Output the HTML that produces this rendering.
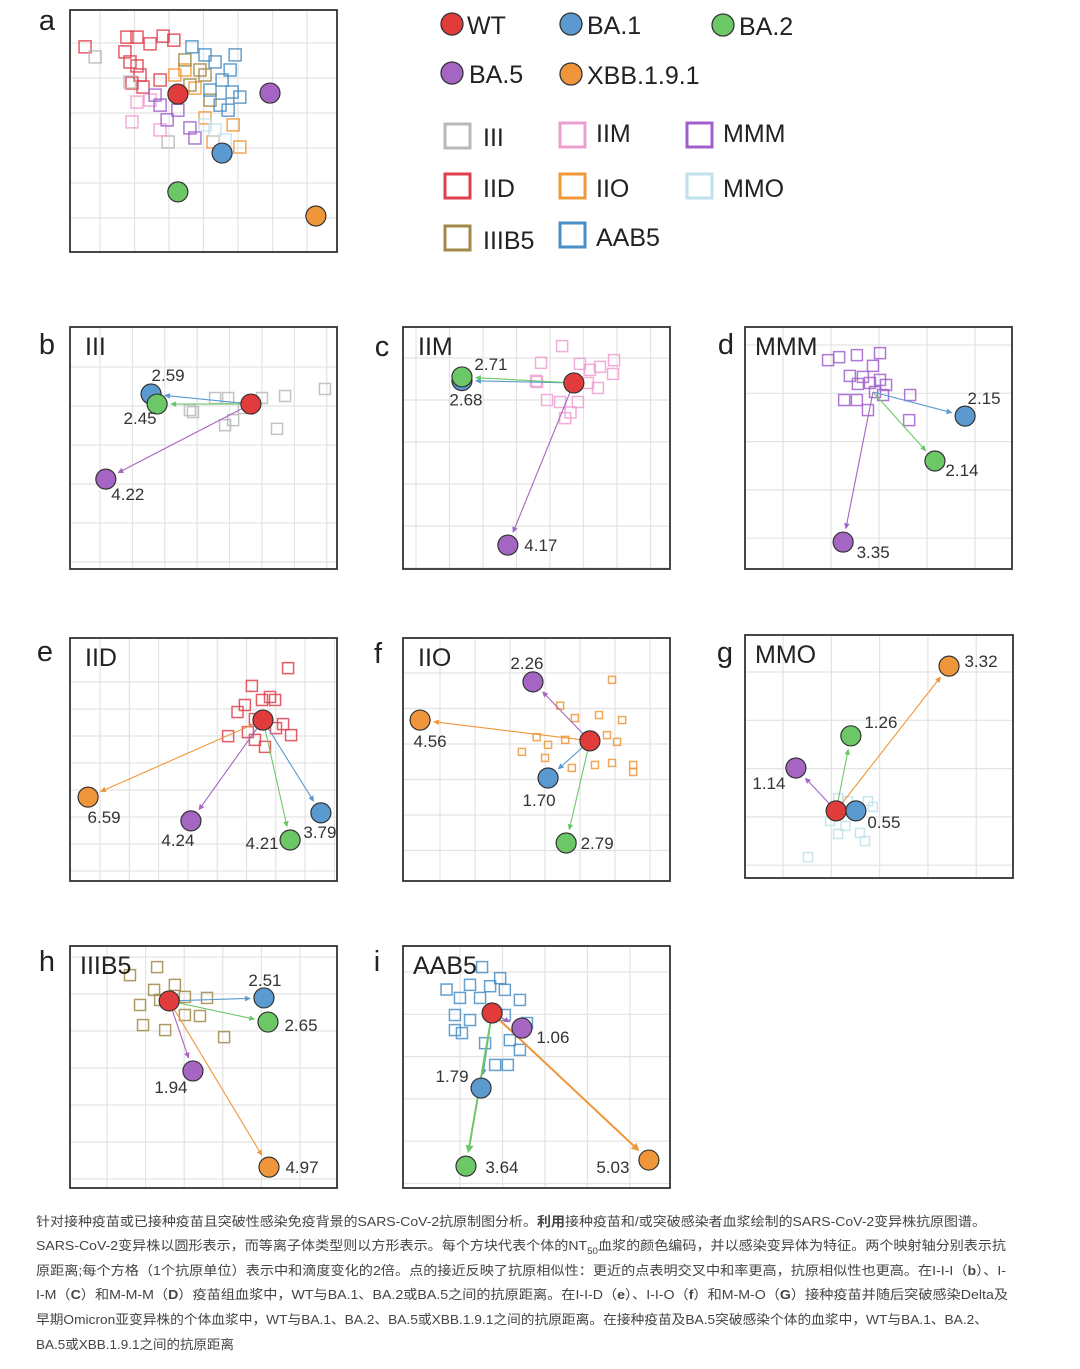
<!DOCTYPE html>
<html><head><meta charset="utf-8"><style>
html,body{margin:0;padding:0;background:#fff}
svg{display:block}
text{font-family:"Liberation Sans","Noto Sans CJK SC",sans-serif}
</style></head><body>
<svg id="fig" width="1080" height="1369" viewBox="0 0 1080 1369" xmlns="http://www.w3.org/2000/svg">
<rect width="1080" height="1369" fill="#fff"/>
<g id="legend" font-size="25" fill="#222">
 <g><circle cx="452" cy="24" r="11" fill="#e23b3b" stroke="#333" stroke-width="1.3"/><text x="467" y="34">WT</text></g>
 <g><circle cx="571" cy="24" r="11" fill="#5a9ad0" stroke="#333" stroke-width="1.3"/><text x="587" y="34">BA.1</text></g>
 <g><circle cx="723" cy="25" r="11" fill="#6cc866" stroke="#333" stroke-width="1.3"/><text x="739" y="35">BA.2</text></g>
 <g><circle cx="452" cy="73" r="11" fill="#a466c2" stroke="#333" stroke-width="1.3"/><text x="469" y="83">BA.5</text></g>
 <g><circle cx="571" cy="74" r="11" fill="#f0963a" stroke="#333" stroke-width="1.3"/><text x="587" y="84">XBB.1.9.1</text></g>
 <g><rect x="445" y="124" width="25" height="24" fill="none" stroke="#b8b8b8" stroke-width="3"/><text x="483" y="146">III</text></g>
 <g><rect x="560" y="123" width="25" height="24" fill="none" stroke="#ee9fd2" stroke-width="3"/><text x="596" y="142">IIM</text></g>
 <g><rect x="687" y="123" width="25" height="24" fill="none" stroke="#a060cc" stroke-width="3"/><text x="723" y="142">MMM</text></g>
 <g><rect x="445" y="174" width="25" height="24" fill="none" stroke="#e0404c" stroke-width="3"/><text x="483" y="197">IID</text></g>
 <g><rect x="560" y="174" width="25" height="24" fill="none" stroke="#f09838" stroke-width="3"/><text x="596" y="197">IIO</text></g>
 <g><rect x="687" y="174" width="25" height="24" fill="none" stroke="#bfe2ea" stroke-width="3"/><text x="723" y="197">MMO</text></g>
 <g><rect x="445" y="226" width="25" height="24" fill="none" stroke="#a08a48" stroke-width="3"/><text x="483" y="249">IIIB5</text></g>
 <g><rect x="560" y="223" width="25" height="24" fill="none" stroke="#4a8ec4" stroke-width="3"/><text x="596" y="246">AAB5</text></g>
</g>
<g id="caption" font-size="13" fill="#444">
 <text x="36" y="1226" textLength="950" lengthAdjust="spacingAndGlyphs">针对接种疫苗或已接种疫苗且突破性感染免疫背景的SARS-CoV-2抗原制图分析。<tspan font-weight="bold">利用</tspan>接种疫苗和/或突破感染者血浆绘制的SARS-CoV-2变异株抗原图谱。</text>
 <text x="36" y="1250" textLength="970" lengthAdjust="spacingAndGlyphs">SARS-CoV-2变异株以圆形表示，而等离子体类型则以方形表示。每个方块代表个体的NT<tspan font-size="9" dy="4">50</tspan><tspan dy="-4">血浆的颜色编码，并以感染变异体为特征。两个映射轴分别表示抗</tspan></text>
 <text x="36" y="1275" textLength="970" lengthAdjust="spacingAndGlyphs">原距离;每个方格（1个抗原单位）表示中和滴度变化的2倍。点的接近反映了抗原相似性：更近的点表明交叉中和率更高，抗原相似性也更高。在I-I-I（<tspan font-weight="bold">b</tspan>）、I-</text>
 <text x="36" y="1299" textLength="972" lengthAdjust="spacingAndGlyphs">I-M（<tspan font-weight="bold">C</tspan>）和M-M-M（<tspan font-weight="bold">D</tspan>）疫苗组血浆中，WT与BA.1、BA.2或BA.5之间的抗原距离。在I-I-D（<tspan font-weight="bold">e</tspan>）、I-I-O（<tspan font-weight="bold">f</tspan>）和M-M-O（<tspan font-weight="bold">G</tspan>）接种疫苗并随后突破感染Delta及</text>
 <text x="36" y="1324" textLength="952" lengthAdjust="spacingAndGlyphs">早期Omicron亚变异株的个体血浆中，WT与BA.1、BA.2、BA.5或XBB.1.9.1之间的抗原距离。在接种疫苗及BA.5突破感染个体的血浆中，WT与BA.1、BA.2、</text>
 <text x="36" y="1349" textLength="198" lengthAdjust="spacingAndGlyphs">BA.5或XBB.1.9.1之间的抗原距离</text>
</g>
</svg>
<script>
// ===== data (antigenic map units; 1 unit ≈ one 2-fold titer step) =====
const antigenNames = ["WT","BA.1","BA.2","BA.5","XBB.1.9.1"];
// panel a
const a_agX = [3.22, 4.54, 3.22, 5.97, 7.34];
const a_agY = [2.51, 4.27, 5.43, 2.48, 6.15];
const a_sqX = [0.45,1.7,2.0,2.78,3.1,2.39,1.64,1.79,2.0,2.09,1.85,2.18,2.69, 0.75,2.93,1.79, 1.85,2.0,2.69,2.39, 2.69,2.9,3.22,3.58,3.73,2.54, 3.43,4.03,4.27,5.07,4.87,3.73,3.13, 3.88,3.58,4.18,4.03,3.43, 3.64,4.03,4.93,4.78,4.54,5.07,4.84,4.33,4.72,4.18,4.48, 4.33,4.63,4.03];
const a_sqY = [1.1,0.81,0.81,0.78,0.9,1.01,1.25,1.55,1.67,1.94,2.18,2.3,2.09, 1.4,3.94,2.15, 3.34,2.75,3.58,2.69, 2.84,3.28,2.99,3.52,3.82,2.54, 1.79,3.22,3.94,4.09,3.43,2.33,1.94, 1.79,2.24,2.69,1.94,1.49, 1.1,1.34,1.34,1.79,2.09,2.6,2.45,1.55,2.99,2.39,2.84, 3.58,3.88,3.43];
const a_sqGroup = ["IID","IID","IID","IID","IID","IID","IID","IID","IID","IID","IID","IID","IID","III","III","III","IIM","IIM","IIM","IIM","MMM","MMM","MMM","MMM","MMM","MMM","IIO","IIO","IIO","IIO","IIO","IIO","IIO","IIIB5","IIIB5","IIIB5","IIIB5","IIIB5","AAB5","AAB5","AAB5","AAB5","AAB5","AAB5","AAB5","AAB5","AAB5","AAB5","AAB5","MMO","MMO","MMO"];
// panel b (III)
const b_agX = [5.40, 2.42, 2.60, 1.07, null];
const b_agY = [2.30, 2.00, 2.30, 4.54, null];
const b_dist = [null, 2.59, 2.45, 4.22, null];
const b_sqX = [3.58,4.33,4.72,3.67,4.63,4.87,5.73,6.42,6.18,7.61,5.19];
const b_sqY = [2.48,2.12,2.12,2.54,2.93,2.78,2.12,2.06,3.04,1.85,2.42];
// panel c (IIM)
const c_agX = [5.10, 1.76, 1.76, 3.13, null];
const c_agY = [1.67, 1.60, 1.49, 6.51, null];
const c_dist = [null, 2.68, 2.71, 4.17, null];
const c_sqX = [4.75,4.12,5.28,5.88,6.3,6.27,5.58,5.82,4.0,4.3,4.69,5.22,4.84,5.52,3.97,5.0];
const c_sqY = [0.57,1.07,1.1,1.19,0.99,1.4,1.28,1.82,1.64,2.18,2.24,2.24,2.72,1.67,1.61,2.55];
// panel d (MMM)
const d_agX = [3.82, 6.57, 5.67, 2.93, null];
const d_agY = [1.94, 2.66, 4.00, 6.42, null];
const d_dist = [null, 2.15, 2.14, 3.35, null];
const d_sqX = [2.48,2.81,3.34,4.03,3.82,3.13,3.52,3.73,4.03,4.21,3.37,3.88,2.96,3.34,4.93,4.9,3.67,4.12];
const d_sqY = [0.99,0.9,0.84,0.78,1.16,1.46,1.49,1.67,1.58,1.73,1.7,1.94,2.18,2.18,2.03,2.78,2.48,2.03];
// panel e (IID)
const e_agX = [5.76, 7.49, 6.57, 3.61, 0.54];
const e_agY = [2.45, 5.22, 6.03, 5.46, 4.75];
const e_dist = [null, 3.79, 4.21, 4.24, 6.59];
const e_sqX = [6.51,5.43,5.97,6.12,5.22,5.0,5.52,6.36,6.6,5.31,4.72,5.52,5.82,6.15,5.73];
const e_sqY = [0.9,1.43,1.76,1.85,2.0,2.21,2.42,2.57,2.9,2.81,2.93,3.04,3.25,2.69,1.85];
// panel f (IIO)
const f_agX = [5.58, 4.33, 4.87, 3.88, 0.51];
const f_agY = [3.07, 4.18, 6.12, 1.31, 2.45];
const f_dist = [null, 1.70, 2.79, 2.26, 4.56];
const f_sqX = [6.24,4.69,5.13,5.85,6.54,3.99,4.84,6.09,6.39,3.55,4.24,5.04,5.73,6.24,6.87,6.87,4.33];
const f_sqY = [1.25,2.02,2.39,2.3,2.45,2.96,3.04,2.9,3.1,3.4,3.58,3.88,3.79,3.73,3.79,4.0,3.19];
// panel g (MMO)
const g_agX = [2.72, 3.31, 3.16, 1.52, 6.09];
const g_agY = [5.25, 5.25, 3.01, 3.97, 0.93];
const g_dist = [null, 0.55, 1.26, 1.14, 3.32];
const g_sqX = [1.88,2.78,3.07,3.67,3.82,2.54,3.0,3.43,3.58,2.78];
const g_sqY = [6.63,4.87,4.96,4.96,5.13,5.55,5.7,5.91,6.15,5.94];
// panel h (IIIB5)
const h_agX = [2.96, 5.79, 5.91, 3.67, 5.94];
const h_agY = [1.64, 1.55, 2.27, 3.73, 6.60];
const h_dist = [null, 2.51, 2.65, 1.94, 4.97];
const h_sqX = [1.79,2.6,3.13,2.51,2.09,3.43,4.09,3.88,3.43,2.18,2.84,4.6,2.69,3.04];
const h_sqY = [0.87,0.63,1.16,1.31,1.76,1.52,1.55,2.09,2.06,2.36,2.51,2.72,1.61,1.61];
// panel i (AAB5)
const i_agX = [2.66, 2.33, 1.88, 3.55, 7.34];
const i_agY = [2.00, 4.24, 6.57, 2.45, 6.39];
const i_dist = [null, 1.79, 3.64, 1.06, 5.03];
const i_sqX = [2.36,2.9,2.0,1.7,2.3,3.04,3.49,1.55,2.0,3.04,3.19,3.49,2.75,3.13,1.55,1.76,3.7,2.45,2.6,1.3];
const i_sqY = [0.63,0.96,1.16,1.55,1.55,1.31,1.61,2.06,2.21,2.06,2.81,3.1,3.55,3.55,2.51,2.6,2.3,2.9,1.2,1.3];

// ===== styles / layout =====
const agColors = ["#e23b3b","#5a9ad0","#6cc866","#a466c2","#f0963a"];
const groupColors = {III:"#b8b8b8",IIM:"#ee9fd2",MMM:"#a060cc",IID:"#e0404c",IIO:"#f09838",MMO:"#bfe2ea",IIIB5:"#a08a48",AAB5:"#4a8ec4"};
const UNIT = 33.5;
const NS = "http://www.w3.org/2000/svg";
const svg = document.getElementById('fig');
function mk(tag, attrs, parent){const e=document.createElementNS(NS,tag);for(const k in attrs)e.setAttribute(k,attrs[k]);parent.appendChild(e);return e;}

const panels = [
 {id:"a",title:"",x:70,y:10,w:267,h:242,grid:[34.5,30,35,33],sq:12,lx:47,ly:30,agX:a_agX,agY:a_agY,dist:null,sqX:a_sqX,sqY:a_sqY,groups:a_sqGroup,lab:null,showWT:true},
 {id:"b",title:"III",x:70,y:327,w:267,h:242,grid:[32.4,30,39,40],sq:11,lx:47,ly:354,agX:b_agX,agY:b_agY,dist:b_dist,sqX:b_sqX,sqY:b_sqY,group:"III",lab:[null,[17,-19],[-17,14],[22,15],null],showWT:true},
 {id:"c",title:"IIM",x:403,y:327,w:267,h:242,grid:[33.5,13,42,31],sq:11,lx:382,ly:356,agX:c_agX,agY:c_agY,dist:c_dist,sqX:c_sqX,sqY:c_sqY,group:"IIM",lab:[null,[4,19],[29,-13],[33,0],null],showWT:true},
 {id:"d",title:"MMM",x:745,y:327,w:267,h:242,grid:[48,38,48.3,18],sq:11,lx:726,ly:354,agX:d_agX,agY:d_agY,dist:d_dist,sqX:d_sqX,sqY:d_sqY,group:"MMM",lab:[null,[19,-18],[27,9],[30,10],null],showWT:false},
 {id:"e",title:"IID",x:70,y:638,w:267,h:243,grid:[29.3,30,27,44],sq:11,lx:45,ly:661,agX:e_agX,agY:e_agY,dist:e_dist,sqX:e_sqX,sqY:e_sqY,group:"IID",lab:[null,[-1,19],[-28,3],[-13,19],[16,20]],showWT:true},
 {id:"f",title:"IIO",x:403,y:638,w:267,h:243,grid:[35,37,35.5,35],sq:7,lx:378,ly:663,agX:f_agX,agY:f_agY,dist:f_dist,sqX:f_sqX,sqY:f_sqY,group:"IIO",lab:[null,[-9,22],[31,0],[-6,-19],[10,21]],showWT:true},
 {id:"g",title:"MMO",x:745,y:635,w:268,h:243,grid:[48.3,38,48.3,37],sq:9,lx:725,ly:662,agX:g_agX,agY:g_agY,dist:g_dist,sqX:g_sqX,sqY:g_sqY,group:"MMO",lab:[null,[28,11],[30,-14],[-27,15],[32,-5]],showWT:true},
 {id:"h",title:"IIIB5",x:70,y:946,w:267,h:242,grid:[38.6,37,37,11],sq:11,lx:47,ly:971,agX:h_agX,agY:h_agY,dist:h_dist,sqX:h_sqX,sqY:h_sqY,group:"IIIB5",lab:[null,[1,-18],[33,3],[-22,16],[33,0]],showWT:true},
 {id:"i",title:"AAB5",x:403,y:946,w:267,h:242,grid:[42.5,57,42.3,26],sq:11,lx:377,ly:971,agX:i_agX,agY:i_agY,dist:i_dist,sqX:i_sqX,sqY:i_sqY,group:"AAB5",lab:[null,[-29,-12],[36,1],[31,9],[-36,7]],showWT:true,thick:true}
];
const drawOrder = [4,3,1,2,0];

panels.forEach(p=>{
  const g = mk('g',{},svg);
  
  
  const sx = u => p.x + u*UNIT;
  const sy = u => p.y + u*UNIT;
  const gg = mk('g',{stroke:"#e3e3e3","stroke-width":"1.2"},g);
  
  
  for(let x=p.x+p.grid[1]; x<p.x+p.w; x+=p.grid[0]) mk('line',{x1:x,y1:p.y,x2:x,y2:p.y+p.h},gg);
  for(let y=p.y+p.grid[3]; y<p.y+p.h; y+=p.grid[2]) mk('line',{x1:p.x,y1:y,x2:p.x+p.w,y2:y},gg);
  const sg = mk('g',{fill:"none","stroke-width":"1.5"},g);
  
  
  p.sqX.forEach((u,k)=>{
    const col = groupColors[p.groups ? p.groups[k] : p.group];
    const r = mk('rect',{x:sx(u)-p.sq/2,y:sy(p.sqY[k])-p.sq/2,width:p.sq,height:p.sq,stroke:col,"stroke-opacity":"0.85"},sg);
    
    
  });
  const R = 10;
  if(p.dist){
    const wx=sx(p.agX[0]), wy=sy(p.agY[0]);
    for(let k=1;k<5;k++){
      if(p.agX[k]==null) continue;
      const tx=sx(p.agX[k]), ty=sy(p.agY[k]);
      const dx=tx-wx, dy=ty-wy, L=Math.hypot(dx,dy), ux=dx/L, uy=dy/L;
      const ex=tx-ux*(R+3), ey=ty-uy*(R+3);
      const sw = (p.thick && (k==2||k==4)) ? 2 : 1.1;
      const hl = sw>1.5?8:6, hw = sw>1.5?4:2.8;
      const ln = mk('line',{x1:wx,y1:wy,x2:ex-ux*hl*0.6,y2:ey-uy*hl*0.6,stroke:agColors[k],"stroke-width":sw},g);
      
      
      const bx=ex-ux*hl, by=ey-uy*hl;
      const hd = mk('polygon',{points:`${ex},${ey} ${bx-uy*hw},${by+ux*hw} ${bx+uy*hw},${by-ux*hw}`,fill:agColors[k]},g);
      
      
    }
  }
  drawOrder.forEach(k=>{
    if(p.agX[k]==null) return;
    if(k==0 && !p.showWT) return;
    const c = mk('circle',{cx:sx(p.agX[k]),cy:sy(p.agY[k]),r:R,fill:agColors[k],stroke:"#333","stroke-width":"1.2"},g);
    
    
  });
  if(p.dist){
    for(let k=1;k<5;k++){
      if(p.dist[k]==null) continue;
      const t = mk('text',{x:sx(p.agX[k])+p.lab[k][0],y:sy(p.agY[k])+p.lab[k][1]+6,"text-anchor":"middle","font-size":"17",fill:"#333"},g);
      t.textContent = p.dist[k].toFixed(2);
      
      
    }
  }
  const fr = mk('rect',{x:p.x,y:p.y,width:p.w,height:p.h,fill:"none",stroke:"#333","stroke-width":"1.8"},g);
  
  
  const lt = mk('text',{x:p.lx,y:p.ly,"text-anchor":"middle","font-size":"29",fill:"#222"},g);
  lt.textContent = p.id;
  
  
  if(p.title){
    const tt = mk('text',{x:p.x+(p.id=="d"||p.id=="g"||p.id=="i"||p.id=="h"?10:15),y:p.y+28,"font-size":"25",fill:"#222"},g);
    tt.textContent = p.title;
    
    
  }
});
</script>
</body></html>
